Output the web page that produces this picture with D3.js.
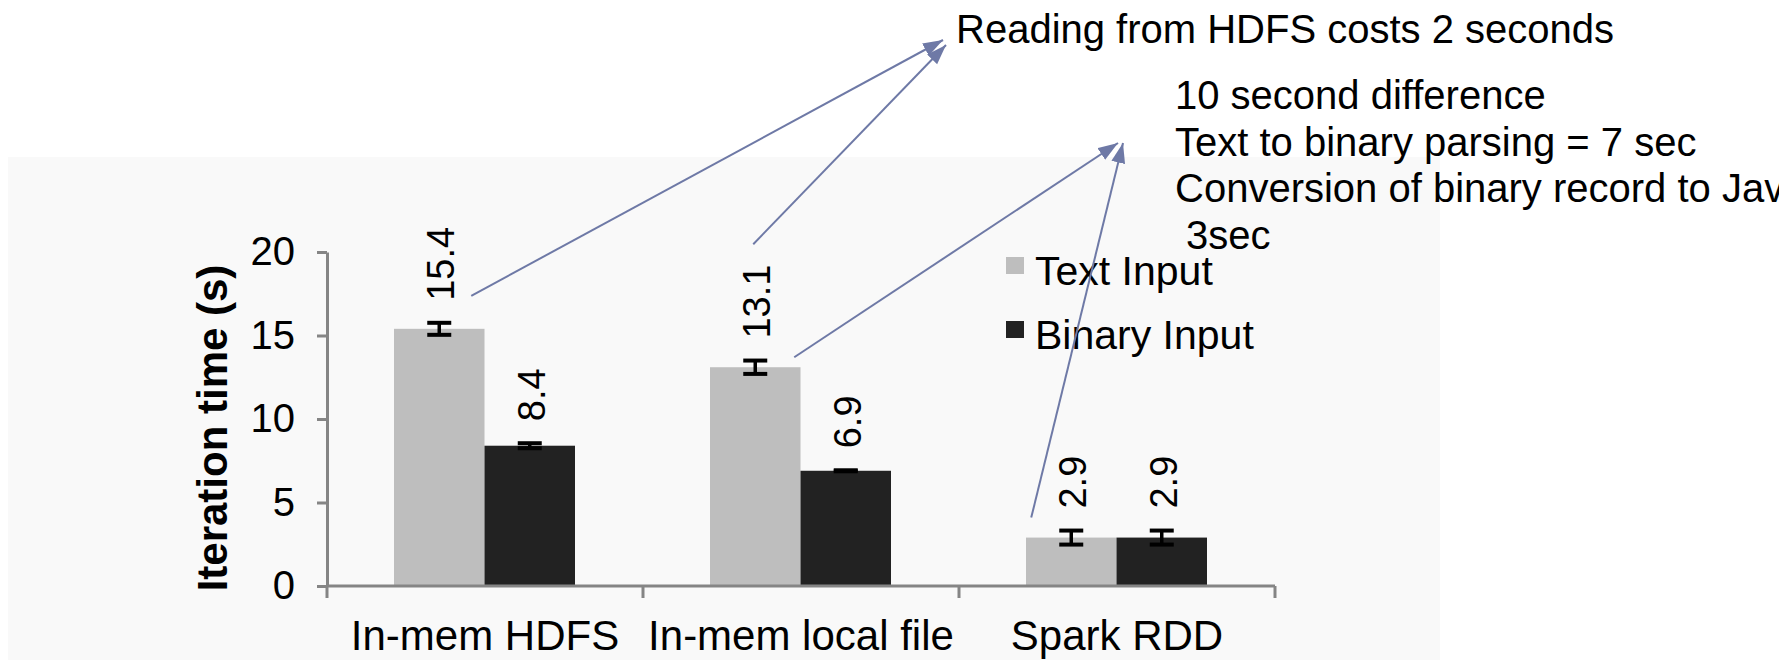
<!DOCTYPE html>
<html>
<head>
<meta charset="utf-8">
<script src="https://cdn.jsdelivr.net/npm/d3@7"></script>
<style>
  body { margin: 0; background: #ffffff; }
  svg { display: block; font-family: "Liberation Sans", Arial, sans-serif; }
  text { white-space: pre; }
</style>
</head>
<body>
<script>
// categories and series
var categories = ["In-mem HDFS", "In-mem local file", "Spark RDD"];
var series = ["Text Input", "Binary Input"];
// values (seconds)
var textValues = [15.4, 13.1, 2.9];
var binaryValues = [8.4, 6.9, 2.9];
// error bar half-widths
var textErrors = [0.36, 0.4, 0.42];
var binaryErrors = [0.15, 0.03, 0.42];
var yTicks = [0, 5, 10, 15, 20];

// annotation texts
var noteTop = "Reading from HDFS costs 2 seconds";
var noteLines = ["10 second difference", "Text to binary parsing = 7 sec",
                 "Conversion of binary record to Java object =", " 3sec"];

var colors = {"Text Input": "#bebebe", "Binary Input": "#222222"};
var arrowColor = "#6e79a6";
var axisColor = "#858585";

var W = 1779, H = 660;
var svg = d3.select("body").append("svg")
  .attr("width", W).attr("height", H);

// light panel behind the chart
svg.append("rect")
  .attr("x", 8).attr("y", 157)
  .attr("width", 1432).attr("height", H - 157)
  .attr("fill", "#f9f9f9");

var data = categories.map(function(c, i) {
  return {cat: c, vals: [
    {s: series[0], v: textValues[i], e: textErrors[i]},
    {s: series[1], v: binaryValues[i], e: binaryErrors[i]}
  ]};
});

var x0 = d3.scaleBand().domain(categories).range([327, 1275]);
var x1 = d3.scaleBand().domain(series).range([67, 248]);
var y = d3.scaleLinear().domain([0, 20]).range([586, 252]);

// bars
var groups = svg.selectAll("g.cat")
  .data(data)
  .enter().append("g")
  .attr("class", "cat")
  .attr("transform", function(d) { return "translate(" + x0(d.cat) + ",0)"; });

var items = groups.selectAll("g.item")
  .data(function(d) { return d.vals; })
  .enter().append("g")
  .attr("class", "item");

items.append("rect")
  .attr("x", function(d) { return x1(d.s); })
  .attr("y", function(d) { return y(d.v); })
  .attr("width", x1.bandwidth())
  .attr("height", function(d) { return y(0) - y(d.v); })
  .attr("fill", function(d) { return colors[d.s]; });

// error bars
function cx(d) { return x1(d.s) + x1.bandwidth() / 2; }
var eb = items.append("g")
  .attr("stroke", "#000").attr("stroke-width", 3.5);
eb.append("line")
  .attr("x1", cx).attr("x2", cx)
  .attr("y1", function(d) { return y(d.v + d.e); })
  .attr("y2", function(d) { return y(d.v - d.e); });
eb.append("line")
  .attr("x1", function(d) { return cx(d) - 12; })
  .attr("x2", function(d) { return cx(d) + 12; })
  .attr("y1", function(d) { return y(d.v + d.e); })
  .attr("y2", function(d) { return y(d.v + d.e); })
  .attr("stroke-width", 4);
eb.append("line")
  .attr("x1", function(d) { return cx(d) - 12; })
  .attr("x2", function(d) { return cx(d) + 12; })
  .attr("y1", function(d) { return y(d.v - d.e); })
  .attr("y2", function(d) { return y(d.v - d.e); })
  .attr("stroke-width", 4);

// value labels, rotated
items.append("text")
  .attr("transform", function(d) {
    return "translate(" + (cx(d) + 15) + "," + (y(d.v + d.e) - 22) + ") rotate(-90)";
  })
  .attr("font-size", 38)
  .attr("fill", "#000")
  .text(function(d) { return d.v.toFixed(1); });

// y axis
var yAxis = svg.append("g")
  .attr("transform", "translate(327,0)")
  .call(d3.axisLeft(y).tickValues(yTicks).tickSize(10).tickSizeOuter(0).tickPadding(22));
yAxis.select(".domain").attr("stroke", axisColor).attr("stroke-width", 3);
yAxis.selectAll(".tick line").attr("stroke", axisColor).attr("stroke-width", 3);
yAxis.selectAll(".tick text")
  .attr("font-size", 40).attr("fill", "#000")
  .attr("font-family", "Liberation Sans, Arial, sans-serif");

svg.append("text")
  .attr("transform", "translate(227,428) rotate(-90)")
  .attr("text-anchor", "middle")
  .attr("font-size", 42).attr("font-weight", "bold")
  .text("Iteration time (s)");

// x axis: line, ticks between categories, labels at centres
var xAxis = svg.append("g");
xAxis.append("line")
  .attr("x1", 327).attr("x2", 1275)
  .attr("y1", y(0)).attr("y2", y(0))
  .attr("stroke", axisColor).attr("stroke-width", 3);
var bounds = categories.map(function(c) { return x0(c); }).concat([x0.range()[1]]);
xAxis.selectAll("line.tk")
  .data(bounds)
  .enter().append("line")
  .attr("class", "tk")
  .attr("x1", function(d) { return d; }).attr("x2", function(d) { return d; })
  .attr("y1", y(0)).attr("y2", y(0) + 12)
  .attr("stroke", axisColor).attr("stroke-width", 3);
xAxis.selectAll("text")
  .data(categories)
  .enter().append("text")
  .attr("x", function(d) { return x0(d) + x0.bandwidth() / 2; })
  .attr("y", 650)
  .attr("text-anchor", "middle")
  .attr("font-size", 42)
  .text(function(d) { return d; });

// legend
var legend = svg.selectAll("g.leg")
  .data(series)
  .enter().append("g")
  .attr("class", "leg")
  .attr("transform", function(d, i) { return "translate(1006," + (257 + i * 64) + ")"; });
legend.append("rect")
  .attr("width", 18).attr("height", 17)
  .attr("fill", function(d) { return colors[d]; });
legend.append("text")
  .attr("x", 29).attr("y", 28)
  .attr("font-size", 41)
  .text(function(d) { return d; });

// annotations
svg.append("defs").append("marker")
  .attr("id", "arrow")
  .attr("markerUnits", "userSpaceOnUse")
  .attr("markerWidth", 22).attr("markerHeight", 16)
  .attr("refX", 20).attr("refY", 7)
  .attr("orient", "auto")
  .append("path")
  .attr("d", "M0,0 L20,7 L0,14 Z")
  .attr("fill", arrowColor);

var topX = 956, topY = 43;
svg.append("text")
  .attr("x", topX).attr("y", topY)
  .attr("font-size", 40)
  .text(noteTop);

var noteX = 1175, noteY = 109;
svg.selectAll("text.note")
  .data(noteLines)
  .enter().append("text")
  .attr("class", "note")
  .attr("x", noteX)
  .attr("y", function(d, i) { return noteY + i * 46.5; })
  .attr("font-size", 40)
  .text(function(d) { return d; });

// arrow start points sit near bars, ends point at the notes
var tx = function(i) { return x0(categories[i]) + x1(series[0]) + x1.bandwidth() / 2; };
var arrows = [
  {x1: tx(0) + 32, y1: y(textValues[0]) - 33, x2: topX - 13, y2: topY - 3},
  {x1: tx(1) - 2, y1: y(textValues[1]) - 123, x2: topX - 10, y2: topY + 2},
  {x1: tx(1) + 39, y1: y(textValues[1]) - 10, x2: noteX - 57, y2: noteY + 34},
  {x1: tx(2) - 40, y1: y(textValues[2]) - 20, x2: noteX - 52, y2: noteY + 34}
];
svg.selectAll("line.arrow")
  .data(arrows)
  .enter().append("line")
  .attr("class", "arrow")
  .attr("x1", function(d) { return d.x1; })
  .attr("y1", function(d) { return d.y1; })
  .attr("x2", function(d) { return d.x2; })
  .attr("y2", function(d) { return d.y2; })
  .attr("stroke", arrowColor)
  .attr("stroke-width", 2)
  .attr("marker-end", "url(#arrow)");
</script>
</body>
</html>
